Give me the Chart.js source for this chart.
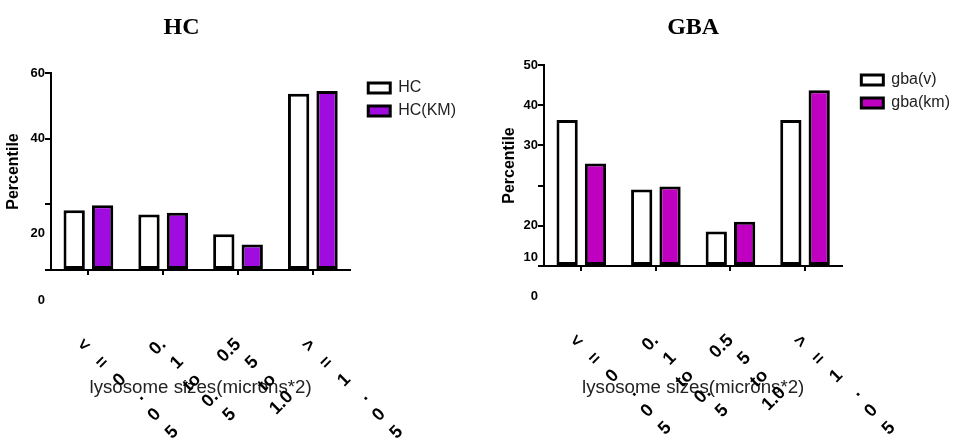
<!DOCTYPE html>
<html><head><meta charset="utf-8">
<script src="https://cdn.jsdelivr.net/npm/chart.js@4.4.1/dist/chart.umd.min.js"></script>
<style>
html,body{margin:0;padding:0;background:#fff;width:959px;height:441px;overflow:hidden}
.panel{position:absolute;top:0}
</style></head><body>
<div class="panel" style="left:0"><canvas id="c1" width="480" height="441"></canvas></div>
<div class="panel" style="left:480px"><canvas id="c2" width="479" height="441"></canvas></div>
<script>
// ---- data ----
const categories = ['<=0.05', '0.1 to 0.5', '0.55 to 1.0', '>=1.05'];
// the category labels as they are broken into lines in the picture
const categoryLines = [
  ['<', '=', '0', '.', '0', '5'],
  ['0.', '1', 'to', '0.', '5'],
  ['0.5', '5', 'to', '1.0'],
  ['>', '=', '1', '.', '0', '5']
];
const hcValues    = [18.2, 16.9, 10.9, 53.7];
const hcKmValues  = [19.7, 17.4, 7.8, 54.5];
const gbaVValues  = [36.3, 19.0, 8.6, 36.3];
const gbaKmValues = [25.5, 19.8, 11.0, 43.7];
const hcYTicks  = [0, 20, 40, 60];
const gbaYTicks = [0, 10, 20, 30, 40, 50];
const hcYTickText  = ['60', '40', '20', '0'];
const gbaYTickText = ['50', '40', '30', '20', '10', '0'];

Chart.defaults.font.family = "'Liberation Sans', Arial, sans-serif";
Chart.defaults.color = '#000';

// y tick labels (drawn beside the library's ticks, some displaced like in the picture)
const yLabelPlugin = {
  id: 'yLabels',
  afterDraw(chart, args, o) {
    const s = chart.scales.y, ctx = chart.ctx;
    ctx.save();
    ctx.font = 'bold 13px "Liberation Sans", Arial, sans-serif';
    ctx.fillStyle = '#000';
    ctx.textAlign = 'right';
    ctx.textBaseline = 'middle';
    o.values.forEach((v, i) => {
      ctx.fillText(o.texts[i], s.right - 6, s.getPixelForValue(v) + (o.shifts[i] || 0));
    });
    ctx.restore();
  }
};
const titlePlugin = {
  id: 'panelTitle',
  afterDraw(chart, args, o) {
    const a = chart.chartArea, ctx = chart.ctx;
    ctx.save();
    ctx.font = 'bold 24px "Liberation Serif", "Times New Roman", serif';
    ctx.fillStyle = '#000';
    ctx.textAlign = 'center';
    ctx.textBaseline = 'middle';
    ctx.fillText(o.text, (a.left + a.right) / 2 + o.dx, 28);
    ctx.restore();
  }
};
const legendShiftPlugin = {
  id: 'legendShift',
  afterLayout(chart, args, o) {
    const lg = chart.legend;
    if (lg) { lg.left += o.dx; lg.right += o.dx; }
  }
};

function makeChart(id, cfg) {
  return new Chart(document.getElementById(id), {
    type: 'bar',
    data: {
      labels: categories,
      datasets: cfg.series.map(s => ({
        label: s.name, data: s.values, backgroundColor: s.color,
        borderColor: '#000', borderWidth: 3, borderSkipped: false,
        categoryPercentage: 0.76, barPercentage: 0.75
      }))
    },
    options: {
      responsive: false, animation: false, devicePixelRatio: 1,
      layout: { padding: { top: cfg.top, right: cfg.padRight, left: 0, bottom: 0 } },
      plugins: {
        tooltip: { enabled: false },
        legend: {
          position: 'right', align: 'start',
          labels: { boxWidth: 22, boxHeight: 10, font: { size: 16 }, color: '#222', padding: 7 }
        },
        yLabels: cfg.yLabels,
        panelTitle: { text: cfg.title, dx: cfg.titleDx },
        legendShift: { dx: cfg.legendDx }
      },
      scales: {
        x: {
          offset: true,
          grid: { display: true, drawOnChartArea: false, offset: false, tickLength: 5, color: '#000', lineWidth: 2 },
          border: { color: '#000', width: 2 },
          ticks: {
            autoSkip: false, minRotation: 45, maxRotation: 45, padding: 58,
            font: { size: 18, weight: 'bold', lineHeight: 1.37 }, color: '#000',
            callback: (v, i) => categoryLines[i]
          },
          title: { display: true, text: 'lysosome sizes(microns*2)', font: { size: 18.7 }, color: '#222',
                   padding: { top: 0, bottom: 42 } },
          afterFit: s => { s.height = cfg.xHeight; s.paddingLeft = 0; s.paddingRight = 0; }
        },
        y: {
          min: 0, max: cfg.max,
          afterBuildTicks: s => { s.ticks = cfg.yTicks.map(v => ({ value: v })); },
          ticks: { display: false },
          grid: { drawOnChartArea: false, drawTicks: true, tickLength: 6, color: '#000', lineWidth: 2 },
          border: { color: '#000', width: 2 },
          title: { display: true, text: 'Percentile', font: { size: 16, weight: 'bold' }, color: '#000',
                   padding: { top: cfg.yTitlePad, bottom: 0 } },
          afterFit: s => { s.width = cfg.yWidth; }
        }
      }
    },
    plugins: [yLabelPlugin, titlePlugin, legendShiftPlugin]
  });
}

makeChart('c1', {
  title: 'HC', titleDx: -19,
  series: [
    { name: 'HC', values: hcValues, color: '#FFFFFF' },
    { name: 'HC(KM)', values: hcKmValues, color: '#A00CE0' }
  ],
  max: 60, yTicks: hcYTicks,
  yLabels: { texts: hcYTickText, values: [60, 40, 20, 0], shifts: [0, 0, 29, 30] },
  top: 73, xHeight: 171, yWidth: 51, yTitlePad: 4, padRight: 25, legendDx: 11
});

makeChart('c2', {
  title: 'GBA', titleDx: 0,
  series: [
    { name: 'gba(v)', values: gbaVValues, color: '#FFFFFF' },
    { name: 'gba(km)', values: gbaKmValues, color: '#C000C0' }
  ],
  max: 50, yTicks: gbaYTicks,
  yLabels: { texts: gbaYTickText, values: [50, 40, 30, 20, 10, 0], shifts: [0, 0, 0, 40, 32, 30] },
  top: 65, xHeight: 175, yWidth: 64, yTitlePad: 20, padRight: 11, legendDx: 12
});
</script>
</body></html>
